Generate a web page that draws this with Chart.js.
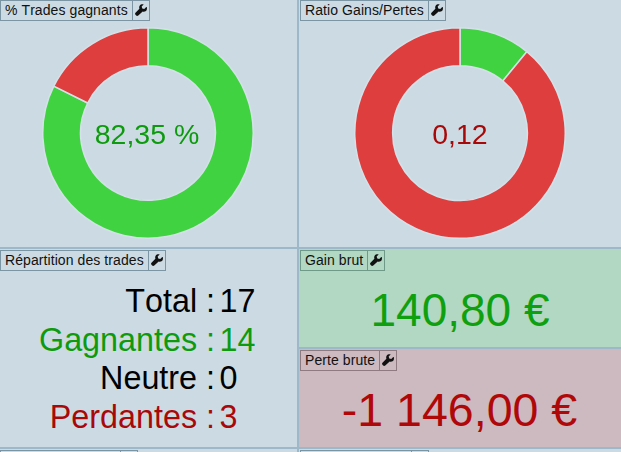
<!DOCTYPE html>
<html lang="fr">
<head>
<meta charset="utf-8">
<title>Statistiques des trades</title>
<script src="https://cdn.jsdelivr.net/npm/chart.js@4"></script>
<style>
html, body { margin: 0; padding: 0; width: 621px; height: 452px; overflow: hidden; background: #ccdbe3; }
body { position: relative; font-family: "Liberation Sans", Arial, sans-serif; color: #000; font-kerning: none; }
.panel { position: absolute; box-sizing: border-box; background: #ccdbe3; overflow: hidden; }
.vline, .hline { position: absolute; background: #9db8c8; }
.title { position: absolute; left: 1px; top: 1px; height: 21px; box-sizing: border-box; display: flex; border: 1px solid #7b95a5; font-size: 14px; line-height: 19px; color: #111; white-space: nowrap; }
.title span { padding: 0 4px; letter-spacing: 0.08px; }
.title i { display: block; width: 16px; border-left: 1px solid #7b95a5; position: relative; }
.title svg { position: absolute; left: 2px; top: 3px; width: 12px; height: 12px; }
canvas { position: absolute; }
.center { position: absolute; text-align: center; white-space: nowrap; }
.row { position: absolute; left: 0; width: 297px; font-size: 32.300px; line-height: 38px; height: 38px; white-space: nowrap; }
.row b { font-weight: normal; position: absolute; right: 82px; }
.row u { text-decoration: none; position: absolute; left: 219.500px; }
.green { color: #0e9a0e; }
.red { color: #a80808; }
</style>
</head>
<body>

<div class="panel" style="left:0;top:0;width:297px;height:247px">
  <canvas id="chartTrades" width="212" height="212" style="left:42px;top:27px;width:212px;height:212px"></canvas>
  <div class="center green" id="pctText" style="left:0;width:294px;top:118px;font-size:28.500px;line-height:32px"></div>
</div>
<div class="panel" style="left:299px;top:0;width:322px;height:247px">
  <canvas id="chartRatio" width="212" height="212" style="left:55px;top:27px;width:212px;height:212px"></canvas>
  <div class="center red" id="ratioText" style="left:0;width:322px;top:118px;font-size:28.500px;line-height:32px"></div>
</div>
<div class="panel" style="left:0;top:249px;width:297px;height:198px" id="repart"></div>
<div class="panel" style="left:299px;top:249px;width:322px;height:98px;background:#b2d8c4">
  <div class="center green" id="gainText" style="left:0;width:322px;top:33px;font-size:46px;line-height:56px;color:#0ea00e"></div>
</div>
<div class="panel" style="left:299px;top:349px;width:322px;height:98px;background:#cdb9c0">
  <div class="center red" id="perteText" style="left:0;width:321px;top:33px;font-size:46.500px;line-height:56px;color:#b00808"></div>
</div>
<div class="panel" style="left:0;top:449px;width:297px;height:3px"></div>
<div class="panel" style="left:299px;top:449px;width:322px;height:3px"></div>

<div class="vline" style="left:297px;top:0;width:2px;height:452px"></div>
<div class="hline" style="left:0;top:247px;width:621px;height:2px"></div>
<div class="hline" style="left:299px;top:347px;width:322px;height:2px"></div>
<div class="hline" style="left:0;top:447px;width:621px;height:2px"></div>

<script>
// Donnees
const tradeLabels = ['Gagnants', 'Perdants'];
const tradeValues = [14, 3];
const ratioLabels = ['Gains', 'Pertes'];
const ratioValues = [140.80, 1146.00];
const repartLabels = ['Total', 'Gagnantes', 'Neutre', 'Perdantes'];
const repartValues = [17, 14, 0, 3];
const repartClasses = ['', 'green', '', 'red'];
const titles = ['% Trades gagnants', 'Ratio Gains/Pertes', 'Répartition des trades', 'Gain brut', 'Perte brute'];
const pctLabel = '82,35 %';
const ratioLabel = '0,12';
const gainLabel = '140,80 €';
const perteLabel = '-1 146,00 €';

const sliceColors = ['#41d241', '#de3e3e'];
const wrench = '<svg viewBox="0 0 24 24"><path fill="#111" d="M22.500 6.200l-4 4-4-1.200-1.200-4 4-4c-3-.9-6.400 0-8 2.600-1.100 1.800-1.200 3.900-.5 5.700L1 17.500c-1.200 1.200-1.200 3 0 4.200l1.300 1.300c1.200 1.200 3 1.200 4.200 0l8.900-7.800c1.800.7 3.900.6 5.700-.5 2.600-1.600 3.400-5 2.400-8.500z"/></svg>';

// Bandeaux de titre
function addTitle(parent, text, left, top, dark) {
    const box = document.createElement('div');
    box.className = 'title';
    box.style.left = left + 'px';
    box.style.top = top + 'px';
    box.innerHTML = '<span>' + text + '</span><i>' + wrench + '</i>';
    if (dark) {
        box.style.borderColor = dark;
        box.querySelector('i').style.borderColor = dark;
    }
    parent.appendChild(box);
}

const panels = document.querySelectorAll('.panel');
addTitle(panels[0], titles[0], 0, 0);
addTitle(panels[1], titles[1], 1, 0);
addTitle(panels[2], titles[2], 0, 1);
addTitle(panels[3], titles[3], 1, 1, '#6f9a87');
addTitle(panels[4], titles[4], 1, 1, '#8f7a82');

// Haut des panneaux suivants, coupes par la fenetre
[panels[5], panels[6]].forEach((p, i) => {
    const box = document.createElement('div');
    box.className = 'title';
    box.style.left = (i === 0 ? 0 : 1) + 'px';
    box.style.width = (i === 0 ? 138 : 129) + 'px';
    box.innerHTML = '<span style="flex:1"></span><i></i>';
    p.appendChild(box);
});

document.getElementById('pctText').textContent = pctLabel;
document.getElementById('ratioText').textContent = ratioLabel;
document.getElementById('gainText').textContent = gainLabel;
document.getElementById('perteText').textContent = perteLabel;

// Repartition des trades
const repart = document.getElementById('repart');
repartLabels.forEach((label, i) => {
    const row = document.createElement('div');
    row.className = 'row ' + repartClasses[i];
    row.style.top = (33 + i * 38.7) + 'px';
    row.innerHTML = '<b>' + label + ' :</b><u>' + repartValues[i] + '</u>';
    repart.appendChild(row);
});

function makeDoughnut(id, labels, values) {
    new Chart(document.getElementById(id), {
        type: 'doughnut',
        data: {
            labels: labels,
            datasets: [{
                data: values,
                backgroundColor: sliceColors,
                borderColor: '#d4e1e8',
                borderWidth: 1.5,
                hoverOffset: 0
            }]
        },
        options: {
            responsive: false,
            animation: false,
            cutout: '64%',
            layout: { padding: 0 },
            plugins: {
                legend: { display: false },
                tooltip: { enabled: false }
            }
        }
    });
}

makeDoughnut('chartTrades', tradeLabels, tradeValues);
makeDoughnut('chartRatio', ratioLabels, ratioValues);
</script>
</body>
</html>
